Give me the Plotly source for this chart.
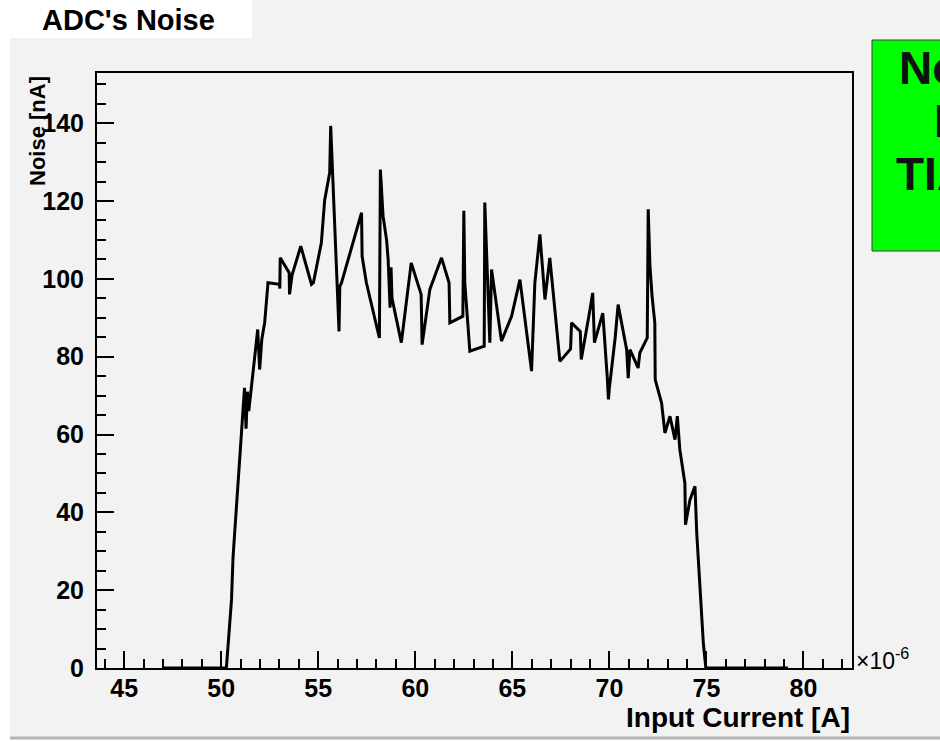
import plotly.graph_objects as go

# Data (x in units of 1e-6 A, noise in nA)
current_uA = [47.0, 48.0, 49.0, 50.0, 50.2, 50.27, 50.35, 50.53, 50.61, 50.78, 50.92, 51.04,
              51.2, 51.28, 51.35, 51.42, 51.64, 51.88, 51.98, 52.09, 52.24, 52.41, 53.0,
              53.02, 53.04, 53.5, 53.52, 53.65, 54.1, 54.65, 54.75, 55.16, 55.33, 55.59,
              55.64, 55.71, 55.85, 55.94, 56.07, 56.11, 56.2, 57.23, 57.26, 57.48, 58.15,
              58.2, 58.34, 58.52, 58.6, 58.7, 58.75, 58.8, 59.28, 59.79, 60.3, 60.35,
              60.75, 61.35, 61.74, 61.78, 62.45, 62.5, 62.55, 62.81, 63.55, 63.58, 63.67,
              63.84, 63.93, 64.44, 64.96, 65.39, 65.99, 66.16, 66.42, 66.68, 66.93, 67.45,
              68.0, 68.05, 68.5, 68.55, 68.97, 69.14, 69.23, 69.66, 69.9, 69.95, 70.0,
              70.3, 70.45, 70.89, 70.97, 71.06, 71.48, 71.57, 71.95, 72.0, 72.09, 72.2,
              72.34, 72.36, 72.69, 72.86, 73.12, 73.38, 73.5, 73.63, 73.89, 73.92, 74.15,
              74.41, 74.5, 74.66, 74.84, 74.97, 75.1, 76.0, 77.0, 78.0, 79.2]
noise_nA = [0, 0, 0, 0, 0, 0.3, 5.5, 17.5, 28.6, 40.7, 51.0, 61.2,
            72.0, 61.5, 71.0, 66.0, 76.0, 87.0, 76.7, 84.4, 88.8, 99.0, 98.6,
            97.5, 105.4, 101.6, 96.0, 101.0, 108.4, 98.6, 99.0, 109.3, 120.2, 127.3,
            139.3, 129.9, 113.2, 104.1, 86.5, 98.1, 99.0, 117.0, 105.8, 99.0, 84.8,
            128.1, 116.1, 110.0, 105.0, 92.6, 103.0, 95.0, 83.6, 104.1, 96.0, 83.1,
            97.3, 105.4, 99.0, 88.7, 90.4, 117.5, 99.0, 81.4, 82.7, 119.6, 107.6,
            83.6, 102.4, 84.0, 90.4, 99.8, 76.3, 99.0, 111.4, 94.7, 105.4, 78.8,
            82.0, 88.7, 86.5, 79.3, 91.2, 96.4, 83.6, 91.2, 74.0, 69.0, 72.0,
            85.0, 93.4, 81.8, 74.5, 81.8, 77.1, 81.0, 84.8, 117.9, 103.3, 95.5,
            88.7, 74.1, 68.1, 60.4, 64.7, 58.7, 64.7, 56.1, 47.5, 36.8, 43.2,
            46.7, 34.7, 20.9, 6.4, 0, 0, 0, 0, 0, 0]

x_ticks = [45, 50, 55, 60, 65, 70, 75, 80]
y_ticks = [0, 20, 40, 60, 80, 100, 120, 140]

title_text = "ADC's Noise"
x_title = "Input Current [A]"
y_title = "Noise [nA]"
exp_text = "×10<sup>-6</sup>"
note_lines = ["Noise", "Input", "TIA"]

W, H = 940, 741
L, R, T, B = 97, 852, 73, 668
FONT = "Liberation Sans, Arial, sans-serif"


def px(xp):
    return (xp - L) / (R - L)


def py(yp):
    return (B - yp) / (B - T)


fig = go.Figure()
fig.add_trace(go.Scatter(x=current_uA, y=noise_nA, mode="lines",
                         line=dict(color="black", width=3), showlegend=False,
                         hoverinfo="skip"))

axis_common = dict(showline=True, linecolor="black", linewidth=2, mirror=True,
                   ticks="inside", ticklen=17, tickwidth=2, tickcolor="black",
                   showgrid=False, zeroline=False,
                   tickfont=dict(family=FONT, size=25, color="black", weight="bold"))

fig.update_xaxes(range=[43.6, 82.5], tickmode="array", tickvals=x_ticks,
                 ticktext=[str(v) for v in x_ticks],
                 minor=dict(dtick=1, tick0=0, ticks="inside", ticklen=9, tickwidth=2,
                            tickcolor="black", showgrid=False),
                 ticklabelstandoff=-3, **axis_common)
fig.update_yaxes(range=[0, 152.9], tickmode="array", tickvals=y_ticks,
                 ticktext=[str(v) for v in y_ticks],
                 minor=dict(dtick=5, tick0=0, ticks="inside", ticklen=9, tickwidth=2,
                            tickcolor="black", showgrid=False),
                 ticklabelstandoff=6, **axis_common)

shapes = [
    # canvas grey area
    dict(type="rect", xref="paper", yref="paper", x0=px(10), x1=px(950), y0=py(737), y1=py(-5),
         fillcolor="#f2f2f2", line=dict(width=0), layer="below"),
    dict(type="line", xref="paper", yref="paper", x0=px(10), x1=px(950), y0=py(738), y1=py(738),
         line=dict(color="#b4b4b4", width=3), layer="below"),
    # title box
    dict(type="rect", xref="paper", yref="paper", x0=px(10), x1=px(252), y0=py(38), y1=py(-5),
         fillcolor="white", line=dict(width=0), layer="above"),
    # green box
    dict(type="rect", xref="paper", yref="paper", x0=px(872), x1=px(960), y0=py(251), y1=py(40),
         fillcolor="#00ff00", line=dict(color="#404040", width=1), layer="above"),
]

annotations = [
    dict(text=f"<b>{title_text}</b>", xref="paper", yref="paper", x=px(40), y=py(20),
         xanchor="left", yanchor="middle", showarrow=False,
         font=dict(family=FONT, size=29, color="black")),
    dict(text=f"<b>{x_title}</b>", xref="paper", yref="paper", x=px(852), y=py(717),
         xanchor="right", yanchor="middle", showarrow=False,
         font=dict(family=FONT, size=28, color="black")),
    dict(text=f"<b>{y_title}</b>", xref="paper", yref="paper", x=px(37), y=py(74),
         xanchor="center", yanchor="top", textangle=-90, showarrow=False,
         font=dict(family=FONT, size=22, color="black")),
    dict(text=exp_text, xref="paper", yref="paper", x=px(854), y=py(659),
         xanchor="left", yanchor="middle", showarrow=False,
         font=dict(family=FONT, size=23, color="black")),
]
for txt, xl, yc in zip(note_lines, [897, 932, 894], [68, 121, 174]):
    annotations.append(dict(text=f"<b>{txt}</b>", xref="paper", yref="paper", x=px(xl), y=py(yc),
                            xanchor="left", yanchor="middle", showarrow=False,
                            font=dict(family=FONT, size=46, color="#111111")))

fig.update_layout(width=W, height=H, margin=dict(l=L, r=W - R, t=T, b=H - B, pad=0),
                  paper_bgcolor="white", plot_bgcolor="rgba(0,0,0,0)",
                  shapes=shapes, annotations=annotations, showlegend=False)

fig.write_html("out.html", config={"displayModeBar": False},
               post_script="document.body.style.margin='0px';document.body.style.padding='0px';"
                           "document.body.style.overflow='hidden';")
